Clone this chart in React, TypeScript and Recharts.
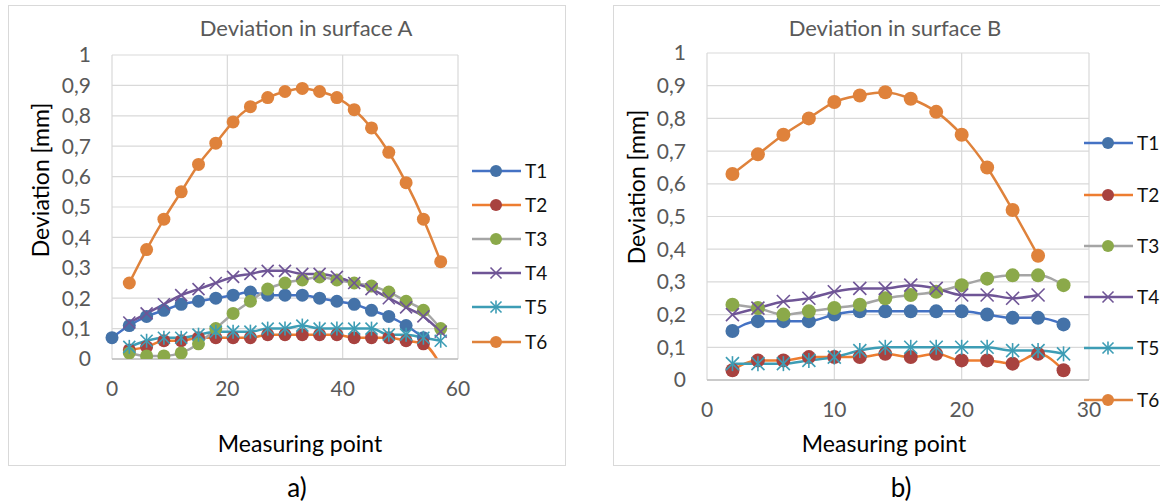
import React from "react"
import { LineChart, Line, XAxis, YAxis, CartesianGrid } from "recharts"

// surface A, measuring points
const xA = [0, 3, 6, 9, 12, 15, 18, 21, 24, 27, 30, 33, 36, 39, 42, 45, 48, 51, 54, 57]
const aT1 = [0.07, 0.11, 0.14, 0.16, 0.18, 0.19, 0.2, 0.21, 0.22, 0.21, 0.21, 0.21, 0.2, 0.19, 0.18, 0.16, 0.14, 0.11, 0.07, null]
const aT2 = [null, 0.03, 0.04, 0.06, 0.06, 0.07, 0.07, 0.07, 0.07, 0.08, 0.08, 0.08, 0.08, 0.08, 0.07, 0.07, 0.07, 0.06, 0.05, -0.02]
const aT3 = [null, 0.02, 0.01, 0.01, 0.02, 0.05, 0.1, 0.15, 0.19, 0.23, 0.25, 0.26, 0.27, 0.26, 0.25, 0.24, 0.22, 0.19, 0.16, 0.1]
const aT4 = [null, 0.12, 0.15, 0.18, 0.21, 0.23, 0.25, 0.27, 0.28, 0.29, 0.29, 0.28, 0.28, 0.27, 0.25, 0.23, 0.2, 0.17, 0.14, 0.09]
const aT5 = [null, 0.04, 0.06, 0.07, 0.07, 0.08, 0.09, 0.09, 0.09, 0.1, 0.1, 0.11, 0.1, 0.1, 0.1, 0.1, 0.08, 0.08, 0.07, 0.06]
const aT6 = [null, 0.25, 0.36, 0.46, 0.55, 0.64, 0.71, 0.78, 0.83, 0.86, 0.88, 0.89, 0.88, 0.86, 0.82, 0.76, 0.68, 0.58, 0.46, 0.32]

// surface B
const xB = [2, 4, 6, 8, 10, 12, 14, 16, 18, 20, 22, 24, 26, 28]
const bT1 = [0.15, 0.18, 0.18, 0.18, 0.2, 0.21, 0.21, 0.21, 0.21, 0.21, 0.2, 0.19, 0.19, 0.17]
const bT2 = [0.03, 0.06, 0.06, 0.07, 0.07, 0.07, 0.08, 0.07, 0.08, 0.06, 0.06, 0.05, 0.08, 0.03]
const bT3 = [0.23, 0.22, 0.2, 0.21, 0.22, 0.23, 0.25, 0.26, 0.27, 0.29, 0.31, 0.32, 0.32, 0.29]
const bT4 = [0.2, 0.22, 0.24, 0.25, 0.27, 0.28, 0.28, 0.29, 0.28, 0.26, 0.26, 0.25, 0.26, null]
const bT5 = [0.05, 0.05, 0.05, 0.06, 0.07, 0.09, 0.1, 0.1, 0.1, 0.1, 0.1, 0.09, 0.09, 0.08]
const bT6 = [0.63, 0.69, 0.75, 0.8, 0.85, 0.87, 0.88, 0.86, 0.82, 0.75, 0.65, 0.52, 0.38, null]

const yTicks = [0, 0.1, 0.2, 0.3, 0.4, 0.5, 0.6, 0.7, 0.8, 0.9, 1]
const xTicksA = [0, 20, 40, 60]
const xTicksB = [0, 10, 20, 30]
const seriesNames = ["T1", "T2", "T3", "T4", "T5", "T6"]

const rowsA = xA.map((x, i) => ({ x, T1: aT1[i], T2: aT2[i], T3: aT3[i], T4: aT4[i], T5: aT5[i], T6: aT6[i] }))
const rowsB = xB.map((x, i) => ({ x, T1: bT1[i], T2: bT2[i], T3: bT3[i], T4: bT4[i], T5: bT5[i], T6: bT6[i] }))

const styles: Record<string, { line: string; mark: string; shape: string }> = {
  T1: { line: "#4472C4", mark: "#4472A8", shape: "circle" },
  T2: { line: "#ED7D31", mark: "#A8423F", shape: "circle" },
  T3: { line: "#A5A5A5", mark: "#8BA94A", shape: "circle" },
  T4: { line: "#6F5596", mark: "#6F5596", shape: "x" },
  T5: { line: "#3D9DB5", mark: "#3D9DB5", shape: "star" },
  T6: { line: "#DF823B", mark: "#DF823B", shape: "circle" },
}

const font = "Lato, 'Open Sans', sans-serif"
const fmt = (v: number) => String(v).replace(".", ",")

function Marker({ cx, cy, name, r }: { cx: number; cy: number; name: string; r: number }) {
  const s = styles[name]
  if (s.shape === "circle") return <circle cx={cx} cy={cy} r={r} fill={s.mark} stroke="none" />
  const d = r - 0.5
  return (
    <g stroke={s.mark} strokeWidth={1.6}>
      <line x1={cx - d} y1={cy - d} x2={cx + d} y2={cy + d} />
      <line x1={cx - d} y1={cy + d} x2={cx + d} y2={cy - d} />
      {s.shape === "star" && <line x1={cx} y1={cy - d - 1} x2={cx} y2={cy + d + 1} />}
    </g>
  )
}

const makeDot = (name: string, r: number) => (props: any) => {
  const { cx, cy, value, index } = props
  if (cx == null || cy == null || value == null || value < 0) return <g key={`d-${name}-${index}`} />
  return (
    <g key={`d-${name}-${index}`}>
      <Marker cx={cx} cy={cy} name={name} r={r} />
    </g>
  )
}

function Legend({ left, tops }: { left: number; tops: number[] }) {
  return (
    <>
      {seriesNames.map((n, i) => (
        <div key={n} style={{ position: "absolute", left, top: tops[i] - 11, height: 22, display: "flex", alignItems: "center" }}>
          <svg width={50} height={14}>
            <line x1={0} y1={7} x2={49} y2={7} stroke={styles[n].line} strokeWidth={2.5} />
            <Marker cx={24} cy={7} name={n} r={6} />
          </svg>
          <span style={{ marginLeft: 3, fontSize: 19, color: "#111", lineHeight: "22px" }}>{n}</span>
        </div>
      ))}
    </>
  )
}

const centered = (x: number, y: number, extra: React.CSSProperties = {}): React.CSSProperties => ({
  position: "absolute",
  left: x,
  top: y,
  transform: "translate(-50%, -50%)",
  whiteSpace: "nowrap",
  ...extra,
})

interface PanelProps {
  rows: any[]
  xMax: number
  xTicks: number[]
  left: number
  width: number
  margin: { top: number; right: number; left: number; bottom: number }
  r: number
}

function Panel({ rows, xMax, xTicks, left, width, margin, r }: PanelProps) {
  const tick = { fontSize: 21, fill: "#595959", fontFamily: font }
  return (
    <div style={{ position: "absolute", left, top: 0 }}>
      <LineChart width={width} height={465} data={rows} margin={margin}>
        <CartesianGrid stroke="#d9d9d9" strokeWidth={1.2} />
        <XAxis
          type="number"
          dataKey="x"
          domain={[0, xMax]}
          ticks={xTicks}
          height={30}
          axisLine={{ stroke: "#bfbfbf", strokeWidth: 1.5 }}
          tickLine={false}
          tickSize={0}
          tickMargin={22}
          tick={tick}
        />
        <YAxis
          domain={[0, 1]}
          ticks={yTicks}
          allowDataOverflow
          width={60}
          axisLine={false}
          tickLine={false}
          tickSize={0}
          tickMargin={21}
          tickFormatter={fmt}
          tick={tick}
        />
        {seriesNames.map((n) => (
          <Line
            key={n}
            type="monotone"
            dataKey={n}
            stroke={styles[n].line}
            strokeWidth={2.5}
            dot={makeDot(n, r)}
            activeDot={false}
            isAnimationActive={false}
          />
        ))}
      </LineChart>
    </div>
  )
}

export default function App() {
  const title = { fontSize: 22, color: "#595959", fontFamily: font }
  const axisTitle = { fontSize: 23, color: "#000", fontFamily: font }
  return (
    <div style={{ position: "absolute", left: 0, top: 0, width: 1160, height: 503, background: "#fff", overflow: "hidden", fontFamily: font }}>
      <div style={{ position: "absolute", left: 8, top: 5, width: 556, height: 459, border: "1px solid #d9d9d9" }} />
      <div style={{ position: "absolute", left: 613, top: 5, width: 600, height: 459, border: "1px solid #d9d9d9" }} />

      <Panel rows={rowsA} xMax={60} xTicks={xTicksA} left={0} width={565} margin={{ top: 55, right: 107, left: 52, bottom: 76 }} r={6.5} />
      <Panel rows={rowsB} xMax={30} xTicks={xTicksB} left={613} width={547} margin={{ top: 53, right: 71, left: 34, bottom: 55 }} r={7} />

      <div style={centered(306, 27, title)}>Deviation in surface A</div>
      <div style={centered(895, 27, title)}>Deviation in surface B</div>
      <div style={centered(300, 443, axisTitle)}>Measuring point</div>
      <div style={centered(884, 443, axisTitle)}>Measuring point</div>
      <div style={centered(40, 180, { ...axisTitle, transform: "translate(-50%, -50%) rotate(-90deg)" })}>Deviation [mm]</div>
      <div style={centered(636, 187, { ...axisTitle, transform: "translate(-50%, -50%) rotate(-90deg)" })}>Deviation [mm]</div>
      <div style={centered(297, 487, { fontSize: 26, color: "#000" })}>a)</div>
      <div style={centered(901, 487, { fontSize: 26, color: "#000" })}>b)</div>

      <Legend left={472} tops={[171, 205, 239, 273, 307, 342]} />
      <Legend left={1084} tops={[143, 195, 246, 297, 348, 400]} />
    </div>
  )
}
